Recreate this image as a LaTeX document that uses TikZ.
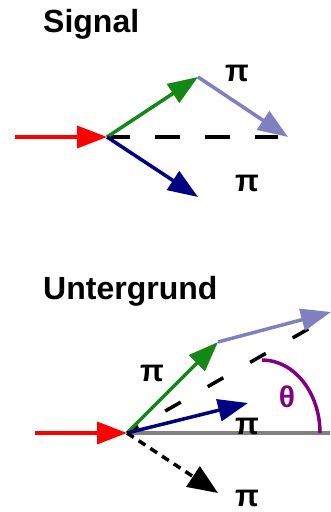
\documentclass[tikz,border=0pt]{standalone}
\usepackage{fontspec}
\setmainfont{Liberation Sans}
\usetikzlibrary{arrows.meta}
\definecolor{cgreen}{RGB}{20,135,20}
\definecolor{cnavy}{RGB}{0,0,128}
\definecolor{clpur}{RGB}{128,128,192}
\definecolor{cpur}{RGB}{128,0,128}
\definecolor{cgray}{RGB}{128,128,128}
\tikzset{
  arr/.style={line width=3.5pt,-{Triangle[length=30pt,width=22pt]}},
  title/.style={font=\bfseries\fontsize{32}{36}\selectfont,anchor=base west,inner sep=0pt},
  lab/.style={font=\bfseries\fontsize{31}{32}\selectfont,inner sep=0pt},
}
\begin{document}
\begin{tikzpicture}[x=1pt,y=1pt]
\useasboundingbox (0,0) rectangle (330,512);
% ---------- Signal ----------
\node[title] (t1) at (43,479) {Signal};
\coordinate (r1) at (15,375);
\coordinate (v1) at (107,375);
\coordinate (g1) at (198,435);
\coordinate (p1) at (288,375);
\coordinate (d1) at (278,375);
\coordinate (n1) at (198,315);
\draw[black,line width=3.5pt,dash pattern=on 25pt off 25pt,dash phase=2pt] (v1) -- (d1);
\draw[arr,red] (r1) -- (v1);
\draw[arr,cgreen] (v1) -- (g1);
\draw[arr,clpur] (g1) -- (p1);
\draw[arr,cnavy] (v1) -- (n1);
\node[lab] (l1) at (237,439) {π};
\node[lab] (l2) at (247,329) {π};
% ---------- Untergrund ----------
\node[title] (t2) at (43,212) {Untergrund};
\coordinate (r2) at (35,79);
\coordinate (v2) at (127,79);
\coordinate (e2) at (330,79);
\coordinate (g2) at (218,170);
\coordinate (p2) at (331,200);
\coordinate (d2) at (310,184);
\coordinate (n2) at (248,109);
\coordinate (b2) at (218,19);
\draw[cgray,line width=3.5pt] (v2) -- (e2);
\draw[black,line width=3.5pt,dash pattern=on 18pt off 31pt,dash phase=5pt] (v2) -- (d2);
\draw[line width=3.5pt,cpur] (262,152) arc[start angle=90,end angle=0,x radius=58,y radius=73];
\draw[arr,red] (r2) -- (v2);
\draw[arr,cgreen] (v2) -- (g2);
\draw[arr,clpur] (g2) -- (p2);
\draw[arr,cnavy] (v2) -- (n2);
\draw[line width=3.5pt,black,dash pattern=on 8pt off 6pt,-{Triangle[length=30pt,width=24pt]}] (v2) -- (b2);
\node[lab] (l3) at (152,139) {π};
\node[lab] (l4) at (247,86) {π};
\node[lab] (l5) at (247,14) {π};
\node[font=\bfseries\fontsize{30}{32}\selectfont,text=cpur,inner sep=0pt] (th) at (287,115) {θ};
\end{tikzpicture}
\end{document}
